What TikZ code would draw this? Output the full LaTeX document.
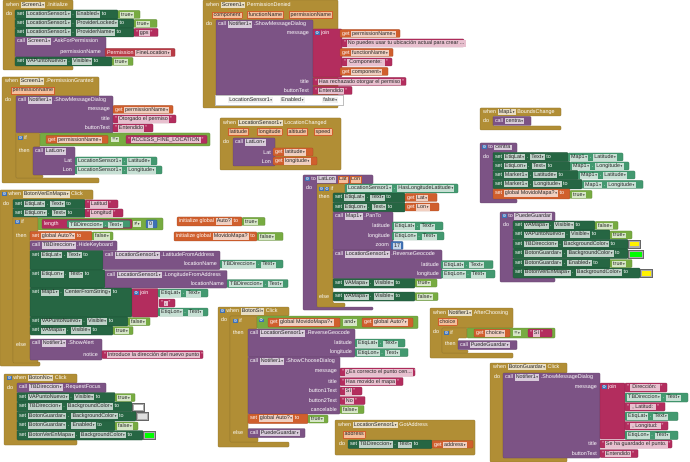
\documentclass[tikz,border=0pt]{standalone}
\usepackage{fontspec}
\setmainfont{Liberation Sans}
\newfontfamily\dv{DejaVu Sans}
\definecolor{cev}{HTML}{B18E35}
\definecolor{cpr}{HTML}{7C5385}
\definecolor{cset}{HTML}{266643}
\definecolor{cget}{HTML}{439970}
\definecolor{cstr}{HTML}{B32D5E}
\definecolor{cvar}{HTML}{D05F2D}
\definecolor{clog}{HTML}{77AB41}
\definecolor{cmath}{HTML}{3F71B5}
\definecolor{cperm}{HTML}{B83A45}
\definecolor{pchip}{HTML}{F5BF9C}
\colorlet{pale}{white}
\newcommand\f{\fontsize{5.4}{6}\selectfont}
\newcommand\arr{{\dv\fontsize{3.4}{4}\selectfont\,▾}}
\newcommand\fd[1]{{\fboxsep=0.6pt\colorbox{pale}{\kern0.6pt\textcolor{black!85}{\rule[-1.1pt]{0pt}{4.6pt}#1}\kern0.6pt}}}
\newcommand\dd[1]{\fd{#1\arr}}
\newcommand\str[1]{"\,\fd{#1}\,"}
\newcommand\gear{{\fboxsep=0.4pt\colorbox{cmath}{\textcolor{white}{\dv\fontsize{4.2}{4.2}\selectfont ⚙}}}}
\newcommand\pc[1]{{\fboxsep=0.7pt\fboxrule=0.3pt\fcolorbox{cvar}{pchip}{\kern0.5pt\textcolor{black!85}{\rule[-1.1pt]{0pt}{4.6pt}#1}\kern0.5pt}}}
\tikzset{lab/.style={anchor=west,inner sep=0pt,text=white,font=\f}}
\newcommand\bk[6]{\filldraw[fill=#5,draw=#5!75!black,line width=0.25pt,rounded corners=0.8pt] (#1,#2) rectangle (#3,#4);
  \node[lab] at ({#1+1.8},{#2+4.5}) {\colorlet{pale}{white!70!#5}#6};}
\newcommand\cs[9]{\filldraw[fill=#9,draw=#9!75!black,line width=0.25pt,rounded corners=0.8pt] (#1,#2) -- (#3,#2) -- (#3,#4) -- (#5,#4) -- (#5,#6) -- (#8,#6) -- (#8,#7) -- (#1,#7) -- cycle;}
\newcommand\hd[4]{\node[lab] at (#1,#2) {\colorlet{pale}{white!70!#3}#4};}
\newcommand\rl[3]{\node[lab,anchor=east] at (#1,#2) {#3};}
\newcommand\ddat[4]{\node[lab] at (#1,#2) {\colorlet{pale}{white!70!#3}\dd{#4}};}
\newcommand\colchip[5]{\filldraw[fill=gray!65,draw=gray!80!black,line width=0.2pt] (#1,#2) rectangle (#3,#4); \fill[#5] ({#1+1.5},{#2+1.5}) rectangle ({#3-1.5},{#4-1.5});}
\begin{document}
\begin{tikzpicture}[x=1pt,y=-1pt]
\fill[white] (0,0) rectangle (690,462);
\useasboundingbox (0,0) rectangle (690,462);
% ===== A Screen1.Initialize
\cs{3}{0}{73}{10}{15}{66}{70}{73}{cev}
\hd{6}{5}{cev}{when \dd{Screen1} .Initialize}
\hd{6}{14}{cev}{do}
\bk{15}{10}{118}{19}{cset}{set \dd{LocationSensor1} . \dd{Enabled} to}
\bk{118}{10.5}{140}{18.5}{clog}{\dd{true}}
\bk{15}{19}{134}{28}{cset}{set \dd{LocationSensor1} . \dd{ProviderLocked} to}
\bk{134}{19.5}{157}{27.5}{clog}{\dd{true}}
\bk{15}{28}{134}{37}{cset}{set \dd{LocationSensor1} . \dd{ProviderName} to}
\bk{134}{28.5}{158}{36.5}{cstr}{\str{gps}}
\bk{15}{37}{106}{57}{cpr}{call \dd{Screen1} .AskForPermission}
\rl{101}{52.5}{permissionName}
\bk{105}{48.5}{175}{56.5}{cperm}{Permission \dd{FineLocation}}
\bk{15}{57}{112}{66}{cset}{set \dd{VAPuntoNuevo} . \dd{Visible} to}
\bk{112}{57.5}{133}{65.5}{clog}{\dd{true}}
% ===== B PermissionGranted
\cs{2}{77}{99}{96}{16}{178}{183}{99}{cev}
\hd{5}{81.5}{cev}{when \dd{Screen1} .PermissionGranted}
\hd{11}{90.5}{cev}{\pc{permissionName}}
\hd{5}{100}{cev}{do}
\bk{16}{96}{113}{133}{cpr}{call \dd{Notifier1} .ShowMessageDialog}
\rl{110}{109.5}{message}
\bk{113}{105.5}{173}{113.5}{cvar}{get \dd{permissionName}}
\rl{110}{119}{title}
\bk{113}{115}{176}{123}{cstr}{\str{Otorgado el permiso}}
\rl{110}{128}{buttonText}
\bk{113}{124}{153}{132}{cstr}{\str{Entendido}}
\cs{16}{133}{40}{147}{33}{175}{178}{43}{cev}
\hd{18}{137.5}{cev}{\gear\ if}
\hd{19}{151}{cev}{then}
\bk{40}{133}{210}{146}{clog}{}
\bk{46}{135.5}{108}{143.5}{cvar}{get \dd{permissionName}}
\ddat{111}{139.5}{clog}{=}
\bk{126}{135.5}{207}{143.5}{cstr}{\str{ACCESS\_FINE\_LOCATION}}
\bk{33}{147}{75}{175}{cpr}{call \dd{LatLon}}
\rl{72}{161}{Lat}
\bk{75}{157}{157}{165}{cget}{\dd{LocationSensor1} . \dd{Latitude}}
\rl{72}{170}{Lon}
\bk{75}{166}{162}{174}{cget}{\dd{LocationSensor1} . \dd{Longitude}}
% ===== C PermissionDenied
\cs{203}{0}{338}{20}{338}{104}{108}{338}{cev}
\hd{206}{5}{cev}{when \dd{Screen1} PermissionDenied}
\hd{212}{15}{cev}{\pc{component}}
\hd{247}{15}{cev}{\pc{functionName}}
\hd{289}{15}{cev}{\pc{permissionName}}
\hd{206}{24}{cev}{do}
\bk{216}{20}{313}{95}{cpr}{call \dd{Notifier1} .ShowMessageDialog}
\rl{309}{33.5}{message}
\bk{313}{29}{342}{77}{cstr}{\gear\ join}
\bk{340}{29.5}{400}{37.5}{cvar}{get \dd{permissionName}}
\bk{342}{39}{464}{47}{cstr}{\str{No puedes usar tu ubicación actual para crear ...}}
\bk{340}{48.5}{393}{56.5}{cvar}{get \dd{functionName}}
\bk{342}{58}{392}{66}{cstr}{\str{ Componente: }}
\bk{340}{67.5}{388}{75.5}{cvar}{get \dd{component}}
\rl{309}{81.5}{title}
\bk{313}{77.5}{406}{85.5}{cstr}{\str{Has rechazado otorgar el permiso}}
\rl{309}{90.5}{buttonText}
\bk{313}{86.5}{352}{94.5}{cstr}{\str{Entendido}}
\filldraw[fill=white,draw=gray!50,line width=0.3pt] (215,95) rectangle (343,105);
\node[lab,text=black!60] at (228,100) {\colorlet{pale}{gray!12}\dd{LocationSensor1}};
\node[lab,text=black!60] at (280,100) {\colorlet{pale}{gray!12}\dd{Enabled}};
\node[lab,text=black!60] at (322,100) {\colorlet{pale}{gray!12}\dd{false}};
% ===== D LocationChanged
\cs{220}{118}{341}{137}{341}{166}{170}{341}{cev}
\hd{223}{123}{cev}{when \dd{LocationSensor1} LocationChanged}
\hd{228}{132}{cev}{\pc{latitude}}
\hd{257}{132}{cev}{\pc{longitude}}
\hd{287}{132}{cev}{\pc{altitude}}
\hd{314}{132}{cev}{\pc{speed}}
\hd{223}{142}{cev}{do}
\bk{233}{138}{275}{166}{cpr}{call \dd{LatLon}}
\rl{271}{152.5}{Lat}
\bk{273}{148}{313}{156}{cvar}{get \dd{latitude}}
\rl{271}{161.5}{Lon}
\bk{273}{157}{317}{165}{cvar}{get \dd{longitude}}
% ===== E Map1.BoundsChange
\cs{480}{108}{561}{116}{493}{126}{130}{561}{cev}
\hd{483}{112}{cev}{when \dd{Map1} BoundsChange}
\hd{483}{121}{cev}{do}
\bk{493}{116.5}{531}{125.5}{cpr}{call \dd{centra}}
% ===== F to centra
\cs{480}{143}{517}{152.5}{493}{199}{203}{517}{cpr}
\hd{482}{147.5}{cpr}{\gear\ to \fd{centra}}
\hd{483}{157}{cpr}{do}
\bk{493}{152.5}{568}{161.5}{cset}{set \dd{EtiqLat} . \dd{Text} to}
\bk{568}{153}{623}{161}{cget}{\dd{Map1} . \dd{Latitude}}
\bk{493}{161.5}{570}{170.5}{cset}{set \dd{EtiqLon} . \dd{Text} to}
\bk{570}{162}{629}{170}{cget}{\dd{Map1} . \dd{Longitude}}
\bk{493}{170.5}{578}{179.5}{cset}{set \dd{Marker1} . \dd{Latitude} to}
\bk{578}{171}{635}{179}{cget}{\dd{Map1} . \dd{Latitude}}
\bk{493}{179.5}{582}{189}{cset}{set \dd{Marker1} . \dd{Longitude} to}
\bk{582}{180.5}{643}{188.5}{cget}{\dd{Map1} . \dd{Longitude}}
\bk{493}{189}{570}{199}{cvar}{set \dd{global MovidoMapa?} to}
\bk{570}{190.5}{592}{198.5}{clog}{\dd{true}}
% ===== G BotonVerEnMapa.Click
\cs{0}{190}{93}{199.5}{13}{362}{366}{40}{cev}
\hd{2}{194.5}{cev}{\gear\ when \dd{BotonVerEnMapa} Click}
\hd{3}{203.5}{cev}{do}
\bk{13}{199.5}{85}{208.5}{cset}{set \dd{EtiqLat} . \dd{Text} to}
\bk{85}{200}{118}{208}{cstr}{\str{Latitud}}
\bk{13}{208.5}{85}{217.5}{cset}{set \dd{EtiqLon} . \dd{Text} to}
\bk{85}{209}{123}{217}{cstr}{\str{Longitud}}
\cs{13}{217.5}{38}{231.5}{30}{359}{363}{38}{cev}
\hd{15}{222}{cev}{\gear\ if}
\hd{16}{236}{cev}{then}
\hd{16}{345}{cev}{else}
\bk{38}{218}{163}{230}{clog}{}
\bk{42}{219.5}{132}{228.5}{cstr}{length}
\bk{67}{220.5}{130}{227.5}{cget}{\dd{TBDireccion} . \dd{Text}}
\ddat{133}{224}{clog}{≠}
\bk{146}{220}{157}{228}{cmath}{\fd{0}}
\bk{30}{231.5}{92}{240.5}{cvar}{set \dd{global Auto?} to}
\bk{92}{232}{113}{240}{clog}{\dd{false}}
\bk{30}{241}{117}{250.5}{cpr}{call \dd{TBDireccion} .HideKeyboard}
\bk{30}{250.5}{103}{270}{cset}{set \dd{EtiqLat} . \dd{Text} to}
\bk{103}{251}{220}{269.5}{cpr}{call \dd{LocationSensor1} .LatitudeFromAddress}
\rl{217}{264}{locationName}
\bk{220}{260}{283}{268}{cget}{\dd{TBDireccion} . \dd{Text}}
\bk{30}{270}{105}{288}{cset}{set \dd{EtiqLon} . \dd{Text} to}
\bk{105}{270.5}{227}{288}{cpr}{call \dd{LocationSensor1} .LongitudeFromAddress}
\rl{224}{283.5}{locationName}
\bk{227}{279.5}{288}{287.5}{cget}{\dd{TBDireccion} . \dd{Text}}
\bk{30}{288}{132}{317}{cset}{set \dd{Map1} . \dd{CenterFromString} to}
\bk{132}{288.5}{158}{317}{cstr}{\gear\ join}
\bk{158}{289}{208}{297}{cget}{\dd{EtiqLat} . \dd{Text}}
\bk{159}{299}{175}{307}{cstr}{\str{,}}
\bk{158}{308}{208}{316}{cget}{\dd{EtiqLon} . \dd{Text}}
\bk{30}{317}{128}{326}{cset}{set \dd{VAPuntoNuevo} . \dd{Visible} to}
\bk{128}{317.5}{150}{325.5}{clog}{\dd{false}}
\bk{30}{326}{113}{335}{cset}{set \dd{VAMapa} . \dd{Visible} to}
\bk{113}{326.5}{133}{334.5}{clog}{\dd{true}}
\bk{30}{339}{102}{360}{cpr}{call \dd{Notifier1} .ShowAlert}
\rl{98}{354.5}{notice}
\bk{102}{350.5}{203}{358.5}{cstr}{\str{Introduce la dirección del nuevo punto}}
% ===== H/I globals
\bk{177}{217}{242}{226}{cvar}{initialize global \fd{Auto?} to}
\bk{242}{217.5}{265}{225.5}{clog}{\dd{true}}
\bk{174}{232}{257}{241}{cvar}{initialize global \fd{MovidoMapa?} to}
\bk{257}{232.5}{283}{240.5}{clog}{\dd{false}}
% ===== J to LatLon
\cs{303}{175}{373}{184}{317}{307}{310}{373}{cpr}
\hd{305}{179.5}{cpr}{\gear\ to \fd{LatLon} \pc{Lat} \pc{Lon}}
\hd{306}{188}{cpr}{do}
\cs{317}{184}{345}{193}{333}{303}{307}{345}{cev}
\hd{319}{188.5}{cev}{\gear\,\gear\ if}
\hd{319}{197}{cev}{then}
\hd{319}{297}{cev}{else}
\bk{345}{184}{458}{193}{cget}{\dd{LocationSensor1} . \dd{HasLongitudeLatitude}}
\bk{333}{193}{405}{202.5}{cset}{set \dd{EtiqLat} . \dd{Text} to}
\bk{405}{193.5}{437}{201.5}{cvar}{get \dd{Lat}}
\bk{333}{202.5}{405}{212}{cset}{set \dd{EtiqLon} . \dd{Text} to}
\bk{405}{203}{439}{211}{cvar}{get \dd{Lon}}
\bk{333}{212}{393}{250}{cpr}{call \dd{Map1} .PanTo}
\rl{390}{226}{latitude}
\bk{392}{222}{443}{230}{cget}{\dd{EtiqLat} . \dd{Text}}
\rl{390}{236}{longitude}
\bk{392}{232}{444}{240}{cget}{\dd{EtiqLon} . \dd{Text}}
\rl{389}{245.5}{zoom}
\bk{391}{241.5}{403}{249.5}{cmath}{\fd{17}}
\bk{333}{250}{442}{278.5}{cpr}{call \dd{LocationSensor1} .ReverseGeocode}
\rl{439}{264.5}{latitude}
\bk{441}{260.5}{493}{268.5}{cget}{\dd{EtiqLat} . \dd{Text}}
\rl{439}{274}{longitude}
\bk{441}{270}{495}{278}{cget}{\dd{EtiqLon} . \dd{Text}}
\bk{333}{278.5}{415}{288}{cset}{set \dd{VAMapa} . \dd{Visible} to}
\bk{415}{279}{437}{287}{clog}{\dd{true}}
\bk{333}{292}{415}{301}{cset}{set \dd{VAMapa} . \dd{Visible} to}
\bk{415}{292.5}{438}{300.5}{clog}{\dd{false}}
% ===== K PuedeGuardar
\cs{500}{212}{555}{221}{513}{278}{282}{555}{cpr}
\hd{502}{216.5}{cpr}{\gear\ to \fd{PuedeGuardar}}
\hd{503}{225}{cpr}{do}
\bk{513}{221}{595}{230}{cset}{set \dd{VAMapa} . \dd{Visible} to}
\bk{595}{221.5}{618}{229.5}{clog}{\dd{false}}
\bk{513}{230}{610}{239.5}{cset}{set \dd{VAPuntoNuevo} . \dd{Visible} to}
\bk{610}{231}{632}{239}{clog}{\dd{true}}
\bk{513}{239.5}{628}{249}{cset}{set \dd{TBDireccion} . \dd{BackgroundColor} to}
\colchip{628}{240.5}{640}{248}{yellow}
\bk{513}{249}{628}{258.5}{cset}{set \dd{BotonGuardar} . \dd{BackgroundColor} to}
\colchip{628}{250}{643}{258}{green}
\bk{513}{258.5}{610}{268}{cset}{set \dd{BotonGuardar} . \dd{Enabled} to}
\bk{610}{259.5}{632}{267.5}{clog}{\dd{true}}
\bk{513}{268}{640}{278}{cset}{set \dd{BotonVerEnMapa} . \dd{BackgroundColor} to}
\colchip{640}{269}{652}{277}{yellow}
% ===== L BotonSi.Click
\cs{218}{307}{289}{316}{230}{442}{447}{289}{cev}
\hd{220}{311.5}{cev}{\gear\ when \dd{BotonSi} Click}
\hd{221}{320}{cev}{do}
\cs{230}{316}{257}{329}{248}{437}{442}{258}{cev}
\hd{233}{320.5}{cev}{\gear\ if}
\hd{233}{333}{cev}{then}
\hd{233}{433}{cev}{else}
\bk{257}{316}{418}{328.5}{clog}{\gear}
\bk{268}{318}{340}{327}{cvar}{get \dd{global MovidoMapa?}}
\ddat{343}{322.5}{clog}{and}
\bk{362}{318}{413}{327}{cvar}{get \dd{global Auto?}}
\bk{248}{329}{355}{357}{cpr}{call \dd{LocationSensor1} .ReverseGeocode}
\rl{352}{343}{latitude}
\bk{355}{339}{405}{347}{cget}{\dd{EtiqLat} . \dd{Text}}
\rl{352}{352.5}{longitude}
\bk{355}{348.5}{408}{356.5}{cget}{\dd{EtiqLon} . \dd{Text}}
\bk{248}{357}{340}{414}{cpr}{call \dd{Notifier1} .ShowChooseDialog}
\rl{337}{372}{message}
\bk{340}{368}{415}{376}{cstr}{\str{¿Es correcto el punto cen...}}
\rl{337}{381.5}{title}
\bk{340}{377.5}{403}{385.5}{cstr}{\str{Has movido el mapa}}
\rl{337}{391}{button1Text}
\bk{340}{387}{362}{395}{cstr}{\str{Sí}}
\rl{337}{400.5}{button2Text}
\bk{340}{396.5}{365}{404.5}{cstr}{\str{No}}
\rl{337}{409.5}{cancelable}
\bk{340}{405.5}{364}{413.5}{clog}{\dd{false}}
\bk{248}{414}{308}{423.5}{cvar}{set \dd{global Auto?} to}
\bk{308}{415}{328}{423}{clog}{\dd{true}}
\bk{248}{428.5}{305}{437.5}{cpr}{call \dd{PuedeGuardar}}
% ===== M GotAddress
\cs{335}{420}{475}{439.5}{475}{449}{455}{475}{cev}
\hd{338}{425}{cev}{when \dd{LocationSensor1} GotAddress}
\hd{343}{434.5}{cev}{\pc{address}}
\hd{339}{444}{cev}{do}
\bk{348}{440}{432}{448.5}{cset}{set \dd{TBDireccion} . \dd{Text} to}
\bk{432}{440.5}{473}{448}{cvar}{get \dd{address}}
% ===== N AfterChoosing
\cs{430}{308}{513}{328}{442}{353}{358}{513}{cev}
\hd{433}{313}{cev}{when \dd{Notifier1} AfterChoosing}
\hd{438}{322}{cev}{\pc{choice}}
\hd{433}{332}{cev}{do}
\cs{442}{328}{467}{338}{458}{350}{353}{468}{cev}
\hd{444}{332.5}{cev}{\gear\ if}
\hd{445}{344}{cev}{then}
\bk{467}{328}{555}{338}{clog}{}
\bk{474}{329}{510}{337}{cvar}{get \dd{choice}}
\ddat{513}{333}{clog}{=}
\bk{528}{329}{552}{337}{cstr}{\str{Sí}}
\bk{458}{340.5}{517}{349.5}{cpr}{call \dd{PuedeGuardar}}
% ===== O BotonNo.Click
\cs{4}{374}{77}{383}{17}{440}{445}{77}{cev}
\hd{7}{378}{cev}{\gear\ when \dd{BotonNo} Click}
\hd{7}{388}{cev}{do}
\bk{17}{383}{106}{392.5}{cpr}{call \dd{TBDireccion} .RequestFocus}
\bk{17}{392.5}{115}{402}{cset}{set \dd{VAPuntoNuevo} . \dd{Visible} to}
\bk{115}{393.5}{135}{401.5}{clog}{\dd{true}}
\bk{17}{402}{132}{411.5}{cset}{set \dd{TBDireccion} . \dd{BackgroundColor} to}
\colchip{132}{403}{144}{411}{white}
\bk{17}{411.5}{136}{421}{cset}{set \dd{BotonGuardar} . \dd{BackgroundColor} to}
\colchip{136}{412.5}{148}{420.5}{gray!25}
\bk{17}{421}{115}{430.5}{cset}{set \dd{BotonGuardar} . \dd{Enabled} to}
\bk{115}{422}{138}{430}{clog}{\dd{false}}
\bk{17}{430.5}{143}{440}{cset}{set \dd{BotonVerEnMapa} . \dd{BackgroundColor} to}
\colchip{143}{431.5}{155}{439.5}{green}
% ===== P BotonGuardar.Click
\cs{490}{363}{567}{373}{503}{457}{462}{567}{cev}
\hd{493}{367}{cev}{when \dd{BotonGuardar} Click}
\hd{494}{377}{cev}{do}
\bk{503}{373}{600}{458}{cpr}{call \dd{Notifier1} .ShowMessageDialog}
\rl{597}{387.5}{message}
\bk{600}{383}{625}{439}{cstr}{\gear\ join}
\bk{625}{383}{667}{392}{cstr}{\str{ Dirección: }}
\bk{625}{393}{688}{402}{cget}{\dd{TBDireccion} . \dd{Text}}
\bk{625}{402.5}{665}{411}{cstr}{\str{ , Latitud: }}
\bk{625}{412}{678}{420.5}{cget}{\dd{EtiqLat} . \dd{Text}}
\bk{625}{421.5}{668}{430}{cstr}{\str{ , Longitud: }}
\bk{625}{431}{678}{439.5}{cget}{\dd{EtiqLon} . \dd{Text}}
\rl{597}{444}{title}
\bk{600}{440}{672}{448}{cstr}{\str{Se ha guardado el punto.}}
\rl{597}{453.5}{buttonText}
\bk{600}{449.5}{638}{457.5}{cstr}{\str{Entendido}}
\end{tikzpicture}
\end{document}
